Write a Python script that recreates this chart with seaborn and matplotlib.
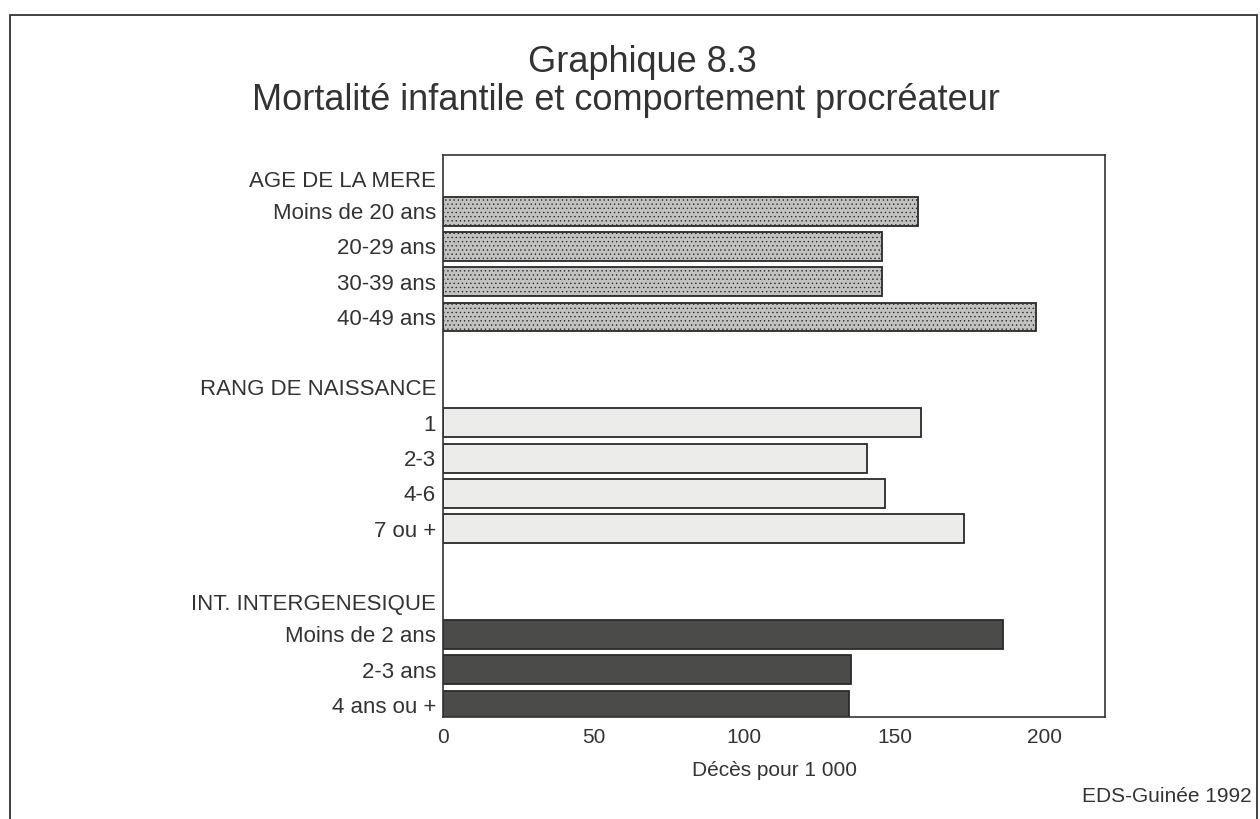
import matplotlib
matplotlib.use("Agg")
import matplotlib.pyplot as plt
import matplotlib.patches as mpatches
import matplotlib.transforms as mtransforms
import seaborn as sns
import pandas as pd

# Infant mortality (deaths per 1 000) by reproductive behaviour
age_labels = ["Moins de 20 ans", "20-29 ans", "30-39 ans", "40-49 ans"]
age_values = [158, 146, 146, 197]

rank_labels = ["1", "2-3", "4-6", "7 ou +"]
rank_values = [159, 141, 147, 173]

interval_labels = ["Moins de 2 ans", "2-3 ans", "4 ans ou +"]
interval_values = [186, 135.5, 135]

group_headers = ["AGE DE LA MERE", "RANG DE NAISSANCE", "INT. INTERGENESIQUE"]
group_colors = ["#c2c2c0", "#ececea", "#4b4b49"]

x_ticks = [0, 50, 100, 150, 200]

sns.set_theme(style="white")
plt.rcParams["font.family"] = ["Liberation Sans", "DejaVu Sans"]
plt.rcParams["hatch.linewidth"] = 0.5

rows = []
for g, (labs, vals) in enumerate([(age_labels, age_values),
                                  (rank_labels, rank_values),
                                  (interval_labels, interval_values)]):
    for lab, val in zip(labs, vals):
        rows.append({"label": lab, "value": val, "group": group_headers[g]})
df = pd.DataFrame(rows)

# row order: header, members, spacer row between groups
order = ([group_headers[0]] + age_labels + [" "] +
         [group_headers[1]] + rank_labels + ["  "] +
         [group_headers[2]] + interval_labels)

fig = plt.figure(figsize=(12.6, 8.19), dpi=100)
ax = fig.add_axes([0.3516, 0.1245, 0.877 - 0.3516, 0.8107 - 0.1245])

sns.barplot(data=df, x="value", y="label", hue="group", order=order,
            hue_order=group_headers, palette=group_colors, dodge=False,
            width=0.82, edgecolor="#2a2a2a", linewidth=1.3, legend=False,
            ax=ax)

# fine stipple on the first group's bars
for bar in ax.patches[:len(age_values)]:
    bar.set_hatch("....")

ax.set_xlim(0, 220)
ax.set_ylim(15.34, -0.59)
ax.set_xticks(x_ticks)
ax.set_xticklabels([str(t) for t in x_ticks], fontsize=15, color="#333333")
ax.tick_params(axis="y", labelsize=16, labelcolor="#333333", length=0, pad=5)
ax.tick_params(axis="x", length=0, pad=8)

# group headers are drawn slightly below their row, so blank their tick text
header_rows = {h: order.index(h) for h in group_headers}
header_shift = {group_headers[0]: 0.15, group_headers[1]: 0.05,
                group_headers[2]: 0.14}
ax.set_yticklabels(["" if t in header_rows else t for t in order])
offset = mtransforms.ScaledTranslation(-5 / 72, 0, fig.dpi_scale_trans)
for h, r in header_rows.items():
    ax.text(0, r + header_shift[h], h, ha="right", va="center", fontsize=16,
            color="#333333",
            transform=mtransforms.blended_transform_factory(
                ax.transAxes, ax.transData) + offset)

ax.set_ylabel("")
ax.set_xlabel("Décès pour 1 000", fontsize=15, color="#333333", labelpad=10)
for s in ax.spines.values():
    s.set_color("#333333")
    s.set_linewidth(1.2)

fig.text(0.51, 0.924, "Graphique 8.3", ha="center", va="center",
         fontsize=26, color="#333333")
fig.text(0.497, 0.877, "Mortalité infantile et comportement procréateur",
         ha="center", va="center", fontsize=26, color="#333333")
fig.text(0.993, 0.027, "EDS-Guinée 1992", ha="right", va="center",
         fontsize=15, color="#333333")

# outer frame around the figure panel
fig.patches.append(mpatches.Rectangle((0.008, -0.01), 0.99, 0.992,
                                      transform=fig.transFigure, fill=False,
                                      edgecolor="#333333", linewidth=1.3))

fig.savefig("out.png", dpi=100, facecolor="white")
